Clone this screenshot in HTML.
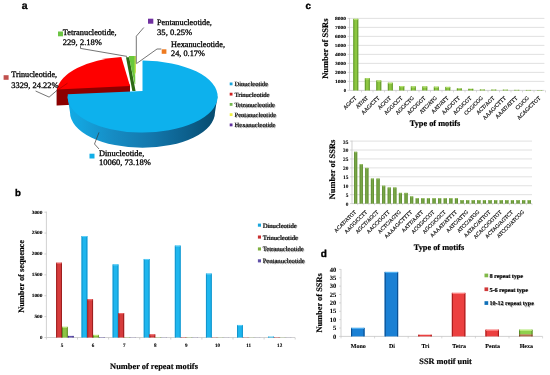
<!DOCTYPE html><html><head><meta charset="utf-8"><style>html,body{margin:0;padding:0;background:#fff;width:550px;height:375px;overflow:hidden}svg{display:block;filter:blur(0.35px)}text{text-rendering:geometricPrecision}text.r{stroke:#000;stroke-width:0.3px}</style></head><body>
<svg width="550" height="375" viewBox="0 0 550 375">
<defs>
<linearGradient id="blueSide" x1="0" y1="0" x2="1" y2="0">
 <stop offset="0" stop-color="#10ace6"/><stop offset="0.1" stop-color="#14a2dc"/><stop offset="0.3" stop-color="#168cc4"/><stop offset="0.55" stop-color="#1378ad"/><stop offset="0.8" stop-color="#0c5f8c"/><stop offset="1" stop-color="#074a6c"/>
</linearGradient>
<linearGradient id="bBlue" x1="0" y1="0" x2="1" y2="0">
 <stop offset="0" stop-color="#17a2d8"/><stop offset="0.3" stop-color="#22b8ee"/><stop offset="0.7" stop-color="#1fb4ea"/><stop offset="1" stop-color="#1590c4"/>
</linearGradient>
<linearGradient id="bRed" x1="0" y1="0" x2="1" y2="0">
 <stop offset="0" stop-color="#a82020"/><stop offset="0.35" stop-color="#d83a3a"/><stop offset="0.7" stop-color="#c83232"/><stop offset="1" stop-color="#8c1a1a"/>
</linearGradient>
<linearGradient id="bGreen" x1="0" y1="0" x2="1" y2="0">
 <stop offset="0" stop-color="#6a9a2a"/><stop offset="0.4" stop-color="#8cc43e"/><stop offset="1" stop-color="#5e8c24"/>
</linearGradient>
<linearGradient id="bPurple" x1="0" y1="0" x2="1" y2="0">
 <stop offset="0" stop-color="#4a3a8a"/><stop offset="0.5" stop-color="#6050a8"/><stop offset="1" stop-color="#3c2e78"/>
</linearGradient>
<linearGradient id="cGreen" x1="0" y1="0" x2="1" y2="0">
 <stop offset="0" stop-color="#5f9630"/><stop offset="0.45" stop-color="#8cc640"/><stop offset="1" stop-color="#4e8224"/>
</linearGradient>
<linearGradient id="c2Green" x1="0" y1="0" x2="1" y2="0">
 <stop offset="0" stop-color="#6e9a3e"/><stop offset="0.5" stop-color="#86b04e"/><stop offset="1" stop-color="#5c8630"/>
</linearGradient>
<linearGradient id="dBlue" x1="0" y1="0" x2="1" y2="0">
 <stop offset="0" stop-color="#0a5fa8"/><stop offset="0.4" stop-color="#1478c8"/><stop offset="1" stop-color="#0a4f90"/>
</linearGradient>
<linearGradient id="dRed" x1="0" y1="0" x2="1" y2="0">
 <stop offset="0" stop-color="#c82828"/><stop offset="0.4" stop-color="#ee4040"/><stop offset="1" stop-color="#b02020"/>
</linearGradient>
<linearGradient id="dGreen" x1="0" y1="0" x2="1" y2="0">
 <stop offset="0" stop-color="#6aa030"/><stop offset="0.4" stop-color="#96d050"/><stop offset="1" stop-color="#5a8c28"/>
</linearGradient>
</defs>
<text x="21.80" y="8.80" font-size="10.4" font-weight="bold" text-anchor="start" fill="#000" font-family='"Liberation Sans", sans-serif'  stroke="#000" stroke-width="0.35">a</text>
<path d="M57.0,88.1 L130.0,84.5 L130.0,102.0 L57.0,105.6 Z" fill="#8c0000"/>
<path d="M57.0,89.6 L57.0,105.6 L56.6,105.6 L56.6,89.6 Z" fill="#7a0000"/>
<path d="M130.0,86.0 L57.0,89.6 A75.0,36.0 0 0,1 121.3,57.0 Z" fill="#fe0000"/>
<line x1="57.1" y1="90.3" x2="67.5" y2="83.2" stroke="#a00000" stroke-width="0.6"/>
<path d="M126,57.3 L129.2,57.3 L135.6,91 L132.3,91 Z" fill="#2c6a14"/>
<path d="M128.8,56 L135,56 L135.3,84 L134.6,84 Z" fill="#6ac83c"/>
<path d="M134.6,56 L136.0,56 L136.0,72 L134.6,75 Z" fill="#c4e050"/>
<path d="M67.5,96.6 L217.5,96.6 L215.0,112.3 A72.5,35.5 0 0,1 70.0,112.3 Z" fill="url(#blueSide)"/>
<path d="M142.5,91.0 L142.5,60.599999999999994 A75.0,36.0 0 1,1 67.8,94.3 Z" fill="#0db1ed"/>
<polyline points="80.5,45.5 80.5,48.4 127,56.4" fill="none" stroke="#3a3a3a" stroke-width="0.7"/>
<polyline points="35.6,91 49.1,97.1 57.1,90.3" fill="none" stroke="#3a3a3a" stroke-width="0.7"/>
<polyline points="143.8,27.5 136.3,36.2 136.3,63.6" fill="none" stroke="#3a3a3a" stroke-width="0.7"/>
<polyline points="161.3,49 157,49 136.5,63.6" fill="none" stroke="#3a3a3a" stroke-width="0.7"/>
<polyline points="99,132.4 94.5,144 99,149" fill="none" stroke="#3a3a3a" stroke-width="0.7"/>
<rect x="58.00" y="31.50" width="5.00" height="4.80" fill="#6cc444" />
<text x="62.80" y="35.30" font-size="8.3" font-weight="normal" text-anchor="start" fill="#000" font-family='"Liberation Serif", serif'  class="r" textLength="53.8" lengthAdjust="spacingAndGlyphs">Tetranucleotide,</text>
<text x="62.80" y="44.70" font-size="8.3" font-weight="normal" text-anchor="start" fill="#000" font-family='"Liberation Serif", serif'  class="r" textLength="39.2" lengthAdjust="spacingAndGlyphs">229, 2.18%</text>
<rect x="3.60" y="75.20" width="5.00" height="4.60" fill="#c0504d" />
<text x="11.30" y="77.20" font-size="8.3" font-weight="normal" text-anchor="start" fill="#000" font-family='"Liberation Serif", serif'  class="r" textLength="45.8" lengthAdjust="spacingAndGlyphs">Trinucleotide,</text>
<text x="11.30" y="87.60" font-size="8.3" font-weight="normal" text-anchor="start" fill="#000" font-family='"Liberation Serif", serif'  class="r" textLength="47.2" lengthAdjust="spacingAndGlyphs">3329, 24.22%</text>
<rect x="148.00" y="18.70" width="5.30" height="5.00" fill="#7030a0" />
<text x="157.00" y="25.30" font-size="8.3" font-weight="normal" text-anchor="start" fill="#000" font-family='"Liberation Serif", serif'  class="r" textLength="54.9" lengthAdjust="spacingAndGlyphs">Pentanucleotide,</text>
<text x="157.00" y="34.70" font-size="8.3" font-weight="normal" text-anchor="start" fill="#000" font-family='"Liberation Serif", serif'  class="r" textLength="35.3" lengthAdjust="spacingAndGlyphs">35, 0.25%</text>
<rect x="161.70" y="49.30" width="4.70" height="4.50" fill="#ee7a20" />
<text x="171.00" y="47.10" font-size="8.3" font-weight="normal" text-anchor="start" fill="#000" font-family='"Liberation Serif", serif'  class="r" textLength="54.0" lengthAdjust="spacingAndGlyphs">Hexanucleotide,</text>
<text x="171.00" y="56.30" font-size="8.3" font-weight="normal" text-anchor="start" fill="#000" font-family='"Liberation Serif", serif'  class="r" textLength="33.9" lengthAdjust="spacingAndGlyphs">24, 0.17%</text>
<rect x="89.50" y="153.70" width="5.00" height="4.80" fill="#10aee8" />
<text x="98.90" y="155.60" font-size="8.3" font-weight="normal" text-anchor="start" fill="#000" font-family='"Liberation Serif", serif'  class="r" textLength="45.5" lengthAdjust="spacingAndGlyphs">Dinucleotide,</text>
<text x="98.90" y="165.10" font-size="8.3" font-weight="normal" text-anchor="start" fill="#000" font-family='"Liberation Serif", serif'  class="r" textLength="52.0" lengthAdjust="spacingAndGlyphs">10060, 73.18%</text>
<rect x="229.70" y="82.50" width="2.80" height="2.80" fill="#1aa6dc" />
<text x="235.30" y="87.00" font-size="6.5" font-weight="normal" text-anchor="start" fill="#a0a0a0" font-family='"Liberation Serif", serif'  stroke="#a0a0a0" stroke-width="0.15">Dinucleotide</text>
<text x="234.60" y="86.30" font-size="6.5" font-weight="normal" text-anchor="start" fill="#000" font-family='"Liberation Serif", serif'  stroke="#000" stroke-width="0.18">Dinucleotide</text>
<rect x="229.70" y="92.75" width="2.80" height="2.80" fill="#d02020" />
<text x="235.30" y="97.25" font-size="6.5" font-weight="normal" text-anchor="start" fill="#a0a0a0" font-family='"Liberation Serif", serif'  stroke="#a0a0a0" stroke-width="0.15">Trinucleotide</text>
<text x="234.60" y="96.55" font-size="6.5" font-weight="normal" text-anchor="start" fill="#000" font-family='"Liberation Serif", serif'  stroke="#000" stroke-width="0.18">Trinucleotide</text>
<rect x="229.70" y="103.00" width="2.80" height="2.80" fill="#74b850" />
<text x="235.30" y="107.50" font-size="6.5" font-weight="normal" text-anchor="start" fill="#a0a0a0" font-family='"Liberation Serif", serif'  stroke="#a0a0a0" stroke-width="0.15">Tetranucleotide</text>
<text x="234.60" y="106.80" font-size="6.5" font-weight="normal" text-anchor="start" fill="#000" font-family='"Liberation Serif", serif'  stroke="#000" stroke-width="0.18">Tetranucleotide</text>
<rect x="229.70" y="113.25" width="2.80" height="2.80" fill="#f0f040" />
<text x="235.30" y="117.75" font-size="6.5" font-weight="normal" text-anchor="start" fill="#a0a0a0" font-family='"Liberation Serif", serif'  stroke="#a0a0a0" stroke-width="0.15">Pentanucleotide</text>
<text x="234.60" y="117.05" font-size="6.5" font-weight="normal" text-anchor="start" fill="#000" font-family='"Liberation Serif", serif'  stroke="#000" stroke-width="0.18">Pentanucleotide</text>
<rect x="229.70" y="123.50" width="2.80" height="2.80" fill="#6030a0" />
<text x="235.30" y="128.00" font-size="6.5" font-weight="normal" text-anchor="start" fill="#a0a0a0" font-family='"Liberation Serif", serif'  stroke="#a0a0a0" stroke-width="0.15">Hexanucleotide</text>
<text x="234.60" y="127.30" font-size="6.5" font-weight="normal" text-anchor="start" fill="#000" font-family='"Liberation Serif", serif'  stroke="#000" stroke-width="0.18">Hexanucleotide</text>
<text x="15.00" y="196.30" font-size="9.6" font-weight="bold" text-anchor="start" fill="#000" font-family='"Liberation Sans", sans-serif'  stroke="#000" stroke-width="0.35">b</text>
<line x1="46.40" y1="211.50" x2="46.40" y2="337.50" stroke="#bfbfbf" stroke-width="0.7" />
<line x1="46.40" y1="337.50" x2="295.00" y2="337.50" stroke="#bfbfbf" stroke-width="0.7" />
<line x1="44.40" y1="337.50" x2="46.40" y2="337.50" stroke="#bfbfbf" stroke-width="0.7" />
<text x="42.50" y="338.85" font-size="4.9" font-weight="bold" text-anchor="end" fill="#000" font-family='"Liberation Serif", serif'  stroke="#000" stroke-width="0.1">0</text>
<line x1="44.40" y1="316.62" x2="46.40" y2="316.62" stroke="#bfbfbf" stroke-width="0.7" />
<text x="42.50" y="317.97" font-size="4.9" font-weight="bold" text-anchor="end" fill="#000" font-family='"Liberation Serif", serif'  stroke="#000" stroke-width="0.1" textLength="8.1" lengthAdjust="spacingAndGlyphs">500</text>
<line x1="44.40" y1="295.73" x2="46.40" y2="295.73" stroke="#bfbfbf" stroke-width="0.7" />
<text x="42.50" y="297.08" font-size="4.9" font-weight="bold" text-anchor="end" fill="#000" font-family='"Liberation Serif", serif'  stroke="#000" stroke-width="0.1" textLength="10.8" lengthAdjust="spacingAndGlyphs">1000</text>
<line x1="44.40" y1="274.85" x2="46.40" y2="274.85" stroke="#bfbfbf" stroke-width="0.7" />
<text x="42.50" y="276.20" font-size="4.9" font-weight="bold" text-anchor="end" fill="#000" font-family='"Liberation Serif", serif'  stroke="#000" stroke-width="0.1" textLength="10.8" lengthAdjust="spacingAndGlyphs">1500</text>
<line x1="44.40" y1="253.97" x2="46.40" y2="253.97" stroke="#bfbfbf" stroke-width="0.7" />
<text x="42.50" y="255.32" font-size="4.9" font-weight="bold" text-anchor="end" fill="#000" font-family='"Liberation Serif", serif'  stroke="#000" stroke-width="0.1" textLength="10.8" lengthAdjust="spacingAndGlyphs">2000</text>
<line x1="44.40" y1="233.08" x2="46.40" y2="233.08" stroke="#bfbfbf" stroke-width="0.7" />
<text x="42.50" y="234.43" font-size="4.9" font-weight="bold" text-anchor="end" fill="#000" font-family='"Liberation Serif", serif'  stroke="#000" stroke-width="0.1" textLength="10.8" lengthAdjust="spacingAndGlyphs">2500</text>
<line x1="44.40" y1="212.20" x2="46.40" y2="212.20" stroke="#bfbfbf" stroke-width="0.7" />
<text x="42.50" y="213.55" font-size="4.9" font-weight="bold" text-anchor="end" fill="#000" font-family='"Liberation Serif", serif'  stroke="#000" stroke-width="0.1" textLength="10.8" lengthAdjust="spacingAndGlyphs">3000</text>
<line x1="46.40" y1="337.50" x2="46.40" y2="339.50" stroke="#bfbfbf" stroke-width="0.7" />
<line x1="77.50" y1="337.50" x2="77.50" y2="339.50" stroke="#bfbfbf" stroke-width="0.7" />
<line x1="108.60" y1="337.50" x2="108.60" y2="339.50" stroke="#bfbfbf" stroke-width="0.7" />
<line x1="139.70" y1="337.50" x2="139.70" y2="339.50" stroke="#bfbfbf" stroke-width="0.7" />
<line x1="170.80" y1="337.50" x2="170.80" y2="339.50" stroke="#bfbfbf" stroke-width="0.7" />
<line x1="201.90" y1="337.50" x2="201.90" y2="339.50" stroke="#bfbfbf" stroke-width="0.7" />
<line x1="233.00" y1="337.50" x2="233.00" y2="339.50" stroke="#bfbfbf" stroke-width="0.7" />
<line x1="264.10" y1="337.50" x2="264.10" y2="339.50" stroke="#bfbfbf" stroke-width="0.7" />
<line x1="295.20" y1="337.50" x2="295.20" y2="339.50" stroke="#bfbfbf" stroke-width="0.7" />
<rect x="56.15" y="262.74" width="5.80" height="74.76" fill="#d63c3c" />
<rect x="56.15" y="262.74" width="1.00" height="74.76" fill="#9c1e1e" />
<rect x="60.95" y="262.74" width="1.00" height="74.76" fill="#9c1e1e" />
<rect x="56.65" y="262.74" width="4.80" height="1.00" fill="#f07070" />
<rect x="61.95" y="326.85" width="5.80" height="10.65" fill="#8cc444" />
<rect x="61.95" y="326.85" width="1.00" height="10.65" fill="#5e8e26" />
<rect x="66.75" y="326.85" width="1.00" height="10.65" fill="#5e8e26" />
<rect x="62.45" y="326.85" width="4.80" height="1.00" fill="#c0e880" />
<rect x="67.85" y="335.91" width="5.80" height="1.59" fill="#6454b0" />
<rect x="67.85" y="335.91" width="1.00" height="1.59" fill="#3e3080" />
<rect x="72.65" y="335.91" width="1.00" height="1.59" fill="#3e3080" />
<text x="61.95" y="347.10" font-size="5.1" font-weight="bold" text-anchor="middle" fill="#000" font-family='"Liberation Serif", serif'  stroke="#000" stroke-width="0.1">5</text>
<rect x="81.55" y="236.01" width="5.80" height="101.49" fill="#1eb6ee" />
<rect x="81.55" y="236.01" width="1.00" height="101.49" fill="#1394cc" />
<rect x="86.35" y="236.01" width="1.00" height="101.49" fill="#1394cc" />
<rect x="82.05" y="236.01" width="4.80" height="1.00" fill="#60d0f8" />
<rect x="87.25" y="299.28" width="5.80" height="38.22" fill="#d63c3c" />
<rect x="87.25" y="299.28" width="1.00" height="38.22" fill="#9c1e1e" />
<rect x="92.05" y="299.28" width="1.00" height="38.22" fill="#9c1e1e" />
<rect x="87.75" y="299.28" width="4.80" height="1.00" fill="#f07070" />
<rect x="93.05" y="334.91" width="5.80" height="2.59" fill="#8cc444" />
<rect x="93.05" y="334.91" width="1.00" height="2.59" fill="#5e8e26" />
<rect x="97.85" y="334.91" width="1.00" height="2.59" fill="#5e8e26" />
<rect x="93.55" y="334.91" width="4.80" height="1.00" fill="#c0e880" />
<rect x="98.95" y="337.17" width="5.80" height="0.33" fill="#6454b0" />
<rect x="98.95" y="337.17" width="1.00" height="0.33" fill="#3e3080" />
<rect x="103.75" y="337.17" width="1.00" height="0.33" fill="#3e3080" />
<text x="93.05" y="347.10" font-size="5.1" font-weight="bold" text-anchor="middle" fill="#000" font-family='"Liberation Serif", serif'  stroke="#000" stroke-width="0.1">6</text>
<rect x="112.65" y="264.41" width="5.80" height="73.09" fill="#1eb6ee" />
<rect x="112.65" y="264.41" width="1.00" height="73.09" fill="#1394cc" />
<rect x="117.45" y="264.41" width="1.00" height="73.09" fill="#1394cc" />
<rect x="113.15" y="264.41" width="4.80" height="1.00" fill="#60d0f8" />
<rect x="118.35" y="313.07" width="5.80" height="24.43" fill="#d63c3c" />
<rect x="118.35" y="313.07" width="1.00" height="24.43" fill="#9c1e1e" />
<rect x="123.15" y="313.07" width="1.00" height="24.43" fill="#9c1e1e" />
<rect x="118.85" y="313.07" width="4.80" height="1.00" fill="#f07070" />
<rect x="124.15" y="337.25" width="5.80" height="0.25" fill="#8cc444" />
<rect x="124.15" y="337.25" width="1.00" height="0.25" fill="#5e8e26" />
<rect x="128.95" y="337.25" width="1.00" height="0.25" fill="#5e8e26" />
<rect x="130.05" y="337.37" width="5.80" height="0.13" fill="#6454b0" />
<rect x="130.05" y="337.37" width="1.00" height="0.13" fill="#3e3080" />
<rect x="134.85" y="337.37" width="1.00" height="0.13" fill="#3e3080" />
<text x="124.15" y="347.10" font-size="5.1" font-weight="bold" text-anchor="middle" fill="#000" font-family='"Liberation Serif", serif'  stroke="#000" stroke-width="0.1">7</text>
<rect x="143.75" y="258.98" width="5.80" height="78.52" fill="#1eb6ee" />
<rect x="143.75" y="258.98" width="1.00" height="78.52" fill="#1394cc" />
<rect x="148.55" y="258.98" width="1.00" height="78.52" fill="#1394cc" />
<rect x="144.25" y="258.98" width="4.80" height="1.00" fill="#60d0f8" />
<rect x="149.45" y="334.37" width="5.80" height="3.13" fill="#d63c3c" />
<rect x="149.45" y="334.37" width="1.00" height="3.13" fill="#9c1e1e" />
<rect x="154.25" y="334.37" width="1.00" height="3.13" fill="#9c1e1e" />
<rect x="149.95" y="334.37" width="4.80" height="1.00" fill="#f07070" />
<rect x="155.25" y="337.25" width="5.80" height="0.25" fill="#8cc444" />
<rect x="155.25" y="337.25" width="1.00" height="0.25" fill="#5e8e26" />
<rect x="160.05" y="337.25" width="1.00" height="0.25" fill="#5e8e26" />
<rect x="161.15" y="337.37" width="5.80" height="0.13" fill="#6454b0" />
<rect x="161.15" y="337.37" width="1.00" height="0.13" fill="#3e3080" />
<rect x="165.95" y="337.37" width="1.00" height="0.13" fill="#3e3080" />
<text x="155.25" y="347.10" font-size="5.1" font-weight="bold" text-anchor="middle" fill="#000" font-family='"Liberation Serif", serif'  stroke="#000" stroke-width="0.1">8</text>
<rect x="174.85" y="245.61" width="5.80" height="91.89" fill="#1eb6ee" />
<rect x="174.85" y="245.61" width="1.00" height="91.89" fill="#1394cc" />
<rect x="179.65" y="245.61" width="1.00" height="91.89" fill="#1394cc" />
<rect x="175.35" y="245.61" width="4.80" height="1.00" fill="#60d0f8" />
<rect x="180.55" y="337.17" width="5.80" height="0.33" fill="#d63c3c" />
<rect x="180.55" y="337.17" width="1.00" height="0.33" fill="#9c1e1e" />
<rect x="185.35" y="337.17" width="1.00" height="0.33" fill="#9c1e1e" />
<rect x="186.35" y="337.29" width="5.80" height="0.21" fill="#8cc444" />
<rect x="186.35" y="337.29" width="1.00" height="0.21" fill="#5e8e26" />
<rect x="191.15" y="337.29" width="1.00" height="0.21" fill="#5e8e26" />
<rect x="192.25" y="337.37" width="5.80" height="0.13" fill="#6454b0" />
<rect x="192.25" y="337.37" width="1.00" height="0.13" fill="#3e3080" />
<rect x="197.05" y="337.37" width="1.00" height="0.13" fill="#3e3080" />
<text x="186.35" y="347.10" font-size="5.1" font-weight="bold" text-anchor="middle" fill="#000" font-family='"Liberation Serif", serif'  stroke="#000" stroke-width="0.1">9</text>
<rect x="205.95" y="273.60" width="5.80" height="63.90" fill="#1eb6ee" />
<rect x="205.95" y="273.60" width="1.00" height="63.90" fill="#1394cc" />
<rect x="210.75" y="273.60" width="1.00" height="63.90" fill="#1394cc" />
<rect x="206.45" y="273.60" width="4.80" height="1.00" fill="#60d0f8" />
<rect x="211.65" y="337.29" width="5.80" height="0.21" fill="#d63c3c" />
<rect x="211.65" y="337.29" width="1.00" height="0.21" fill="#9c1e1e" />
<rect x="216.45" y="337.29" width="1.00" height="0.21" fill="#9c1e1e" />
<rect x="217.45" y="337.37" width="5.80" height="0.13" fill="#8cc444" />
<rect x="217.45" y="337.37" width="1.00" height="0.13" fill="#5e8e26" />
<rect x="222.25" y="337.37" width="1.00" height="0.13" fill="#5e8e26" />
<rect x="223.35" y="337.42" width="5.80" height="0.08" fill="#6454b0" />
<rect x="223.35" y="337.42" width="1.00" height="0.08" fill="#3e3080" />
<rect x="228.15" y="337.42" width="1.00" height="0.08" fill="#3e3080" />
<text x="217.45" y="347.10" font-size="5.1" font-weight="bold" text-anchor="middle" fill="#000" font-family='"Liberation Serif", serif'  stroke="#000" stroke-width="0.1">10</text>
<rect x="237.05" y="324.97" width="5.80" height="12.53" fill="#1eb6ee" />
<rect x="237.05" y="324.97" width="1.00" height="12.53" fill="#1394cc" />
<rect x="241.85" y="324.97" width="1.00" height="12.53" fill="#1394cc" />
<rect x="237.55" y="324.97" width="4.80" height="1.00" fill="#60d0f8" />
<rect x="242.75" y="337.29" width="5.80" height="0.21" fill="#d63c3c" />
<rect x="242.75" y="337.29" width="1.00" height="0.21" fill="#9c1e1e" />
<rect x="247.55" y="337.29" width="1.00" height="0.21" fill="#9c1e1e" />
<rect x="248.55" y="337.37" width="5.80" height="0.13" fill="#8cc444" />
<rect x="248.55" y="337.37" width="1.00" height="0.13" fill="#5e8e26" />
<rect x="253.35" y="337.37" width="1.00" height="0.13" fill="#5e8e26" />
<rect x="254.45" y="337.42" width="5.80" height="0.08" fill="#6454b0" />
<rect x="254.45" y="337.42" width="1.00" height="0.08" fill="#3e3080" />
<rect x="259.25" y="337.42" width="1.00" height="0.08" fill="#3e3080" />
<text x="248.55" y="347.10" font-size="5.1" font-weight="bold" text-anchor="middle" fill="#000" font-family='"Liberation Serif", serif'  stroke="#000" stroke-width="0.1">11</text>
<rect x="268.15" y="336.66" width="5.80" height="0.84" fill="#1eb6ee" />
<rect x="268.15" y="336.66" width="1.00" height="0.84" fill="#1394cc" />
<rect x="272.95" y="336.66" width="1.00" height="0.84" fill="#1394cc" />
<rect x="273.85" y="337.17" width="5.80" height="0.33" fill="#d63c3c" />
<rect x="273.85" y="337.17" width="1.00" height="0.33" fill="#9c1e1e" />
<rect x="278.65" y="337.17" width="1.00" height="0.33" fill="#9c1e1e" />
<rect x="279.65" y="337.37" width="5.80" height="0.13" fill="#8cc444" />
<rect x="279.65" y="337.37" width="1.00" height="0.13" fill="#5e8e26" />
<rect x="284.45" y="337.37" width="1.00" height="0.13" fill="#5e8e26" />
<rect x="285.55" y="337.42" width="5.80" height="0.08" fill="#6454b0" />
<rect x="285.55" y="337.42" width="1.00" height="0.08" fill="#3e3080" />
<rect x="290.35" y="337.42" width="1.00" height="0.08" fill="#3e3080" />
<text x="279.65" y="347.10" font-size="5.1" font-weight="bold" text-anchor="middle" fill="#000" font-family='"Liberation Serif", serif'  stroke="#000" stroke-width="0.1">12</text>
<text x="24.50" y="276.40" font-size="8.4" font-weight="bold" text-anchor="middle" fill="#000" font-family='"Liberation Serif", serif' transform="rotate(-90 24.50 276.40)" stroke="#000" stroke-width="0.18">Number of sequence</text>
<text x="154.00" y="369.20" font-size="8.4" font-weight="bold" text-anchor="middle" fill="#000" font-family='"Liberation Serif", serif'  stroke="#000" stroke-width="0.18">Number of repeat motifs</text>
<rect x="257.90" y="223.60" width="3.10" height="3.10" fill="#1aa6dc" />
<text x="263.40" y="228.30" font-size="6.6" font-weight="normal" text-anchor="start" fill="#a0a0a0" font-family='"Liberation Serif", serif'  stroke="#a0a0a0" stroke-width="0.15">Dinucleotide</text>
<text x="262.70" y="227.60" font-size="6.6" font-weight="normal" text-anchor="start" fill="#000" font-family='"Liberation Serif", serif'  stroke="#000" stroke-width="0.18">Dinucleotide</text>
<rect x="257.90" y="235.50" width="3.10" height="3.10" fill="#c83030" />
<text x="263.40" y="240.20" font-size="6.6" font-weight="normal" text-anchor="start" fill="#a0a0a0" font-family='"Liberation Serif", serif'  stroke="#a0a0a0" stroke-width="0.15">Trinucleotide</text>
<text x="262.70" y="239.50" font-size="6.6" font-weight="normal" text-anchor="start" fill="#000" font-family='"Liberation Serif", serif'  stroke="#000" stroke-width="0.18">Trinucleotide</text>
<rect x="257.90" y="247.40" width="3.10" height="3.10" fill="#80b040" />
<text x="263.40" y="252.10" font-size="6.6" font-weight="normal" text-anchor="start" fill="#a0a0a0" font-family='"Liberation Serif", serif'  stroke="#a0a0a0" stroke-width="0.15">Tetranucleotide</text>
<text x="262.70" y="251.40" font-size="6.6" font-weight="normal" text-anchor="start" fill="#000" font-family='"Liberation Serif", serif'  stroke="#000" stroke-width="0.18">Tetranucleotide</text>
<rect x="257.90" y="259.30" width="3.10" height="3.10" fill="#6050a8" />
<text x="263.40" y="264.00" font-size="6.6" font-weight="normal" text-anchor="start" fill="#a0a0a0" font-family='"Liberation Serif", serif'  stroke="#a0a0a0" stroke-width="0.15">Pentanucleotide</text>
<text x="262.70" y="263.30" font-size="6.6" font-weight="normal" text-anchor="start" fill="#000" font-family='"Liberation Serif", serif'  stroke="#000" stroke-width="0.18">Pentanucleotide</text>
<text x="305.60" y="8.80" font-size="9.8" font-weight="bold" text-anchor="start" fill="#000" font-family='"Liberation Sans", sans-serif'  stroke="#000" stroke-width="0.35">c</text>
<line x1="349.50" y1="81.40" x2="544.40" y2="81.40" stroke="#d9d9d9" stroke-width="0.8" />
<line x1="349.50" y1="72.40" x2="544.40" y2="72.40" stroke="#d9d9d9" stroke-width="0.8" />
<line x1="349.50" y1="63.40" x2="544.40" y2="63.40" stroke="#d9d9d9" stroke-width="0.8" />
<line x1="349.50" y1="54.40" x2="544.40" y2="54.40" stroke="#d9d9d9" stroke-width="0.8" />
<line x1="349.50" y1="45.40" x2="544.40" y2="45.40" stroke="#d9d9d9" stroke-width="0.8" />
<line x1="349.50" y1="36.40" x2="544.40" y2="36.40" stroke="#d9d9d9" stroke-width="0.8" />
<line x1="349.50" y1="27.40" x2="544.40" y2="27.40" stroke="#d9d9d9" stroke-width="0.8" />
<line x1="349.50" y1="18.40" x2="544.40" y2="18.40" stroke="#d9d9d9" stroke-width="0.8" />
<line x1="349.50" y1="18.00" x2="349.50" y2="90.40" stroke="#bfbfbf" stroke-width="0.7" />
<line x1="349.50" y1="90.40" x2="544.40" y2="90.40" stroke="#bfbfbf" stroke-width="0.7" />
<line x1="347.50" y1="90.40" x2="349.50" y2="90.40" stroke="#bfbfbf" stroke-width="0.6" />
<text x="346.00" y="92.20" font-size="4.7" font-weight="bold" text-anchor="end" fill="#000" font-family='"Liberation Serif", serif'  stroke="#000" stroke-width="0.1">0</text>
<line x1="347.50" y1="81.40" x2="349.50" y2="81.40" stroke="#bfbfbf" stroke-width="0.6" />
<text x="346.00" y="83.20" font-size="4.7" font-weight="bold" text-anchor="end" fill="#000" font-family='"Liberation Serif", serif'  stroke="#000" stroke-width="0.1" textLength="11.0" lengthAdjust="spacingAndGlyphs">1000</text>
<line x1="347.50" y1="72.40" x2="349.50" y2="72.40" stroke="#bfbfbf" stroke-width="0.6" />
<text x="346.00" y="74.20" font-size="4.7" font-weight="bold" text-anchor="end" fill="#000" font-family='"Liberation Serif", serif'  stroke="#000" stroke-width="0.1" textLength="11.0" lengthAdjust="spacingAndGlyphs">2000</text>
<line x1="347.50" y1="63.40" x2="349.50" y2="63.40" stroke="#bfbfbf" stroke-width="0.6" />
<text x="346.00" y="65.20" font-size="4.7" font-weight="bold" text-anchor="end" fill="#000" font-family='"Liberation Serif", serif'  stroke="#000" stroke-width="0.1" textLength="11.0" lengthAdjust="spacingAndGlyphs">3000</text>
<line x1="347.50" y1="54.40" x2="349.50" y2="54.40" stroke="#bfbfbf" stroke-width="0.6" />
<text x="346.00" y="56.20" font-size="4.7" font-weight="bold" text-anchor="end" fill="#000" font-family='"Liberation Serif", serif'  stroke="#000" stroke-width="0.1" textLength="11.0" lengthAdjust="spacingAndGlyphs">4000</text>
<line x1="347.50" y1="45.40" x2="349.50" y2="45.40" stroke="#bfbfbf" stroke-width="0.6" />
<text x="346.00" y="47.20" font-size="4.7" font-weight="bold" text-anchor="end" fill="#000" font-family='"Liberation Serif", serif'  stroke="#000" stroke-width="0.1" textLength="11.0" lengthAdjust="spacingAndGlyphs">5000</text>
<line x1="347.50" y1="36.40" x2="349.50" y2="36.40" stroke="#bfbfbf" stroke-width="0.6" />
<text x="346.00" y="38.20" font-size="4.7" font-weight="bold" text-anchor="end" fill="#000" font-family='"Liberation Serif", serif'  stroke="#000" stroke-width="0.1" textLength="11.0" lengthAdjust="spacingAndGlyphs">6000</text>
<line x1="347.50" y1="27.40" x2="349.50" y2="27.40" stroke="#bfbfbf" stroke-width="0.6" />
<text x="346.00" y="29.20" font-size="4.7" font-weight="bold" text-anchor="end" fill="#000" font-family='"Liberation Serif", serif'  stroke="#000" stroke-width="0.1" textLength="11.0" lengthAdjust="spacingAndGlyphs">7000</text>
<line x1="347.50" y1="18.40" x2="349.50" y2="18.40" stroke="#bfbfbf" stroke-width="0.6" />
<text x="346.00" y="20.20" font-size="4.7" font-weight="bold" text-anchor="end" fill="#000" font-family='"Liberation Serif", serif'  stroke="#000" stroke-width="0.1" textLength="11.0" lengthAdjust="spacingAndGlyphs">8000</text>
<rect x="353.35" y="18.85" width="4.90" height="71.55" fill="#8cc640" />
<rect x="353.35" y="18.85" width="1.00" height="71.55" fill="#62982c" />
<rect x="357.25" y="18.85" width="1.00" height="71.55" fill="#62982c" />
<rect x="353.85" y="18.85" width="3.90" height="1.20" fill="#b4e070" />
<line x1="361.50" y1="90.40" x2="361.50" y2="92.40" stroke="#bfbfbf" stroke-width="0.6" />
<text x="356.75" y="98.30" font-size="5.4" font-weight="normal" text-anchor="end" fill="#111" font-family='"Liberation Serif", serif' transform="rotate(-45 356.75 98.3)" stroke="#111" stroke-width="0.2">AG/CT</text>
<rect x="364.85" y="78.25" width="4.90" height="12.15" fill="#8cc640" />
<rect x="364.85" y="78.25" width="1.00" height="12.15" fill="#62982c" />
<rect x="368.75" y="78.25" width="1.00" height="12.15" fill="#62982c" />
<rect x="365.35" y="78.25" width="3.90" height="1.20" fill="#b4e070" />
<line x1="373.00" y1="90.40" x2="373.00" y2="92.40" stroke="#bfbfbf" stroke-width="0.6" />
<text x="368.25" y="98.30" font-size="5.4" font-weight="normal" text-anchor="end" fill="#111" font-family='"Liberation Serif", serif' transform="rotate(-45 368.25 98.3)" stroke="#111" stroke-width="0.2">AT/AT</text>
<rect x="376.35" y="80.50" width="4.90" height="9.90" fill="#8cc640" />
<rect x="376.35" y="80.50" width="1.00" height="9.90" fill="#62982c" />
<rect x="380.25" y="80.50" width="1.00" height="9.90" fill="#62982c" />
<rect x="376.85" y="80.50" width="3.90" height="1.20" fill="#b4e070" />
<line x1="384.50" y1="90.40" x2="384.50" y2="92.40" stroke="#bfbfbf" stroke-width="0.6" />
<text x="379.75" y="98.30" font-size="5.4" font-weight="normal" text-anchor="end" fill="#111" font-family='"Liberation Serif", serif' transform="rotate(-45 379.75 98.3)" stroke="#111" stroke-width="0.2">AAG/CTT</text>
<rect x="387.85" y="82.75" width="4.90" height="7.65" fill="#8cc640" />
<rect x="387.85" y="82.75" width="1.00" height="7.65" fill="#62982c" />
<rect x="391.75" y="82.75" width="1.00" height="7.65" fill="#62982c" />
<rect x="388.35" y="82.75" width="3.90" height="1.20" fill="#b4e070" />
<line x1="396.00" y1="90.40" x2="396.00" y2="92.40" stroke="#bfbfbf" stroke-width="0.6" />
<text x="391.25" y="98.30" font-size="5.4" font-weight="normal" text-anchor="end" fill="#111" font-family='"Liberation Serif", serif' transform="rotate(-45 391.25 98.3)" stroke="#111" stroke-width="0.2">AC/GT</text>
<rect x="399.35" y="85.99" width="4.90" height="4.41" fill="#8cc640" />
<rect x="399.35" y="85.99" width="1.00" height="4.41" fill="#62982c" />
<rect x="403.25" y="85.99" width="1.00" height="4.41" fill="#62982c" />
<rect x="399.85" y="85.99" width="3.90" height="1.20" fill="#b4e070" />
<line x1="407.50" y1="90.40" x2="407.50" y2="92.40" stroke="#bfbfbf" stroke-width="0.6" />
<text x="402.75" y="98.30" font-size="5.4" font-weight="normal" text-anchor="end" fill="#111" font-family='"Liberation Serif", serif' transform="rotate(-45 402.75 98.3)" stroke="#111" stroke-width="0.2">AGG/CCT</text>
<rect x="410.85" y="86.40" width="4.90" height="4.00" fill="#8cc640" />
<rect x="410.85" y="86.40" width="1.00" height="4.00" fill="#62982c" />
<rect x="414.75" y="86.40" width="1.00" height="4.00" fill="#62982c" />
<rect x="411.35" y="86.40" width="3.90" height="1.20" fill="#b4e070" />
<line x1="419.00" y1="90.40" x2="419.00" y2="92.40" stroke="#bfbfbf" stroke-width="0.6" />
<text x="414.25" y="98.30" font-size="5.4" font-weight="normal" text-anchor="end" fill="#111" font-family='"Liberation Serif", serif' transform="rotate(-45 414.25 98.3)" stroke="#111" stroke-width="0.2">AGC/CTG</text>
<rect x="422.35" y="86.44" width="4.90" height="3.96" fill="#8cc640" />
<rect x="422.35" y="86.44" width="1.00" height="3.96" fill="#62982c" />
<rect x="426.25" y="86.44" width="1.00" height="3.96" fill="#62982c" />
<rect x="422.85" y="86.44" width="3.90" height="1.20" fill="#b4e070" />
<line x1="430.50" y1="90.40" x2="430.50" y2="92.40" stroke="#bfbfbf" stroke-width="0.6" />
<text x="425.75" y="98.30" font-size="5.4" font-weight="normal" text-anchor="end" fill="#111" font-family='"Liberation Serif", serif' transform="rotate(-45 425.75 98.3)" stroke="#111" stroke-width="0.2">ACC/GGT</text>
<rect x="433.85" y="86.71" width="4.90" height="3.69" fill="#8cc640" />
<rect x="433.85" y="86.71" width="1.00" height="3.69" fill="#62982c" />
<rect x="437.75" y="86.71" width="1.00" height="3.69" fill="#62982c" />
<rect x="434.35" y="86.71" width="3.90" height="1.20" fill="#b4e070" />
<line x1="442.00" y1="90.40" x2="442.00" y2="92.40" stroke="#bfbfbf" stroke-width="0.6" />
<text x="437.25" y="98.30" font-size="5.4" font-weight="normal" text-anchor="end" fill="#111" font-family='"Liberation Serif", serif' transform="rotate(-45 437.25 98.3)" stroke="#111" stroke-width="0.2">ATC/ATG</text>
<rect x="445.35" y="86.89" width="4.90" height="3.51" fill="#8cc640" />
<rect x="445.35" y="86.89" width="1.00" height="3.51" fill="#62982c" />
<rect x="449.25" y="86.89" width="1.00" height="3.51" fill="#62982c" />
<rect x="445.85" y="86.89" width="3.90" height="1.20" fill="#b4e070" />
<line x1="453.50" y1="90.40" x2="453.50" y2="92.40" stroke="#bfbfbf" stroke-width="0.6" />
<text x="448.75" y="98.30" font-size="5.4" font-weight="normal" text-anchor="end" fill="#111" font-family='"Liberation Serif", serif' transform="rotate(-45 448.75 98.3)" stroke="#111" stroke-width="0.2">AAT/ATT</text>
<rect x="456.85" y="88.42" width="4.90" height="1.98" fill="#8cc640" />
<rect x="456.85" y="88.42" width="1.00" height="1.98" fill="#62982c" />
<rect x="460.75" y="88.42" width="1.00" height="1.98" fill="#62982c" />
<line x1="465.00" y1="90.40" x2="465.00" y2="92.40" stroke="#bfbfbf" stroke-width="0.6" />
<text x="460.25" y="98.30" font-size="5.4" font-weight="normal" text-anchor="end" fill="#111" font-family='"Liberation Serif", serif' transform="rotate(-45 460.25 98.3)" stroke="#111" stroke-width="0.2">AAC/GTT</text>
<rect x="468.35" y="88.78" width="4.90" height="1.62" fill="#8cc640" />
<rect x="468.35" y="88.78" width="1.00" height="1.62" fill="#62982c" />
<rect x="472.25" y="88.78" width="1.00" height="1.62" fill="#62982c" />
<line x1="476.50" y1="90.40" x2="476.50" y2="92.40" stroke="#bfbfbf" stroke-width="0.6" />
<text x="471.75" y="98.30" font-size="5.4" font-weight="normal" text-anchor="end" fill="#111" font-family='"Liberation Serif", serif' transform="rotate(-45 471.75 98.3)" stroke="#111" stroke-width="0.2">ACG/CGT</text>
<rect x="479.85" y="89.50" width="4.90" height="0.90" fill="#8cc640" />
<rect x="479.85" y="89.50" width="1.00" height="0.90" fill="#62982c" />
<rect x="483.75" y="89.50" width="1.00" height="0.90" fill="#62982c" />
<line x1="488.00" y1="90.40" x2="488.00" y2="92.40" stroke="#bfbfbf" stroke-width="0.6" />
<text x="483.25" y="98.30" font-size="5.4" font-weight="normal" text-anchor="end" fill="#111" font-family='"Liberation Serif", serif' transform="rotate(-45 483.25 98.3)" stroke="#111" stroke-width="0.2">CCG/CGG</text>
<rect x="491.35" y="89.59" width="4.90" height="0.81" fill="#8cc640" />
<rect x="491.35" y="89.59" width="1.00" height="0.81" fill="#62982c" />
<rect x="495.25" y="89.59" width="1.00" height="0.81" fill="#62982c" />
<line x1="499.50" y1="90.40" x2="499.50" y2="92.40" stroke="#bfbfbf" stroke-width="0.6" />
<text x="494.75" y="98.30" font-size="5.4" font-weight="normal" text-anchor="end" fill="#111" font-family='"Liberation Serif", serif' transform="rotate(-45 494.75 98.3)" stroke="#111" stroke-width="0.2">ACT/AGT</text>
<rect x="502.85" y="89.68" width="4.90" height="0.72" fill="#8cc640" />
<rect x="502.85" y="89.68" width="1.00" height="0.72" fill="#62982c" />
<rect x="506.75" y="89.68" width="1.00" height="0.72" fill="#62982c" />
<line x1="511.00" y1="90.40" x2="511.00" y2="92.40" stroke="#bfbfbf" stroke-width="0.6" />
<text x="506.25" y="98.30" font-size="5.4" font-weight="normal" text-anchor="end" fill="#111" font-family='"Liberation Serif", serif' transform="rotate(-45 506.25 98.3)" stroke="#111" stroke-width="0.2">AAAG/CTTT</text>
<rect x="514.35" y="89.86" width="4.90" height="0.54" fill="#8cc640" />
<rect x="514.35" y="89.86" width="1.00" height="0.54" fill="#62982c" />
<rect x="518.25" y="89.86" width="1.00" height="0.54" fill="#62982c" />
<line x1="522.50" y1="90.40" x2="522.50" y2="92.40" stroke="#bfbfbf" stroke-width="0.6" />
<text x="517.75" y="98.30" font-size="5.4" font-weight="normal" text-anchor="end" fill="#111" font-family='"Liberation Serif", serif' transform="rotate(-45 517.75 98.3)" stroke="#111" stroke-width="0.2">AAAT/ATTT</text>
<rect x="525.85" y="89.95" width="4.90" height="0.45" fill="#8cc640" />
<rect x="525.85" y="89.95" width="1.00" height="0.45" fill="#62982c" />
<rect x="529.75" y="89.95" width="1.00" height="0.45" fill="#62982c" />
<line x1="534.00" y1="90.40" x2="534.00" y2="92.40" stroke="#bfbfbf" stroke-width="0.6" />
<text x="529.25" y="98.30" font-size="5.4" font-weight="normal" text-anchor="end" fill="#111" font-family='"Liberation Serif", serif' transform="rotate(-45 529.25 98.3)" stroke="#111" stroke-width="0.2">CG/CG</text>
<rect x="537.35" y="90.04" width="4.90" height="0.36" fill="#8cc640" />
<rect x="537.35" y="90.04" width="1.00" height="0.36" fill="#62982c" />
<rect x="541.25" y="90.04" width="1.00" height="0.36" fill="#62982c" />
<line x1="545.50" y1="90.40" x2="545.50" y2="92.40" stroke="#bfbfbf" stroke-width="0.6" />
<text x="540.75" y="98.30" font-size="5.4" font-weight="normal" text-anchor="end" fill="#111" font-family='"Liberation Serif", serif' transform="rotate(-45 540.75 98.3)" stroke="#111" stroke-width="0.2">ACAG/CTGT</text>
<text x="328.50" y="48.70" font-size="8.5" font-weight="bold" text-anchor="middle" fill="#000" font-family='"Liberation Serif", serif' transform="rotate(-90 328.50 48.70)" stroke="#000" stroke-width="0.18">Number of SSRs</text>
<text x="435.00" y="126.00" font-size="8.3" font-weight="bold" text-anchor="middle" fill="#000" font-family='"Liberation Serif", serif'  stroke="#000" stroke-width="0.18">Type of motifs</text>
<line x1="352.00" y1="194.67" x2="532.00" y2="194.67" stroke="#d9d9d9" stroke-width="0.8" />
<line x1="352.00" y1="185.74" x2="532.00" y2="185.74" stroke="#d9d9d9" stroke-width="0.8" />
<line x1="352.00" y1="176.81" x2="532.00" y2="176.81" stroke="#d9d9d9" stroke-width="0.8" />
<line x1="352.00" y1="167.89" x2="532.00" y2="167.89" stroke="#d9d9d9" stroke-width="0.8" />
<line x1="352.00" y1="158.96" x2="532.00" y2="158.96" stroke="#d9d9d9" stroke-width="0.8" />
<line x1="352.00" y1="150.03" x2="532.00" y2="150.03" stroke="#d9d9d9" stroke-width="0.8" />
<line x1="352.00" y1="141.10" x2="532.00" y2="141.10" stroke="#d9d9d9" stroke-width="0.8" />
<line x1="352.00" y1="140.60" x2="352.00" y2="203.60" stroke="#bfbfbf" stroke-width="0.7" />
<line x1="352.00" y1="203.60" x2="532.00" y2="203.60" stroke="#bfbfbf" stroke-width="0.7" />
<line x1="350.00" y1="203.60" x2="352.00" y2="203.60" stroke="#bfbfbf" stroke-width="0.6" />
<text x="348.40" y="206.00" font-size="5.3" font-weight="bold" text-anchor="end" fill="#000" font-family='"Liberation Serif", serif'  stroke="#000" stroke-width="0.1">0</text>
<line x1="350.00" y1="194.67" x2="352.00" y2="194.67" stroke="#bfbfbf" stroke-width="0.6" />
<text x="348.40" y="197.07" font-size="5.3" font-weight="bold" text-anchor="end" fill="#000" font-family='"Liberation Serif", serif'  stroke="#000" stroke-width="0.1">5</text>
<line x1="350.00" y1="185.74" x2="352.00" y2="185.74" stroke="#bfbfbf" stroke-width="0.6" />
<text x="348.40" y="188.14" font-size="5.3" font-weight="bold" text-anchor="end" fill="#000" font-family='"Liberation Serif", serif'  stroke="#000" stroke-width="0.1">10</text>
<line x1="350.00" y1="176.81" x2="352.00" y2="176.81" stroke="#bfbfbf" stroke-width="0.6" />
<text x="348.40" y="179.21" font-size="5.3" font-weight="bold" text-anchor="end" fill="#000" font-family='"Liberation Serif", serif'  stroke="#000" stroke-width="0.1">15</text>
<line x1="350.00" y1="167.89" x2="352.00" y2="167.89" stroke="#bfbfbf" stroke-width="0.6" />
<text x="348.40" y="170.29" font-size="5.3" font-weight="bold" text-anchor="end" fill="#000" font-family='"Liberation Serif", serif'  stroke="#000" stroke-width="0.1">20</text>
<line x1="350.00" y1="158.96" x2="352.00" y2="158.96" stroke="#bfbfbf" stroke-width="0.6" />
<text x="348.40" y="161.36" font-size="5.3" font-weight="bold" text-anchor="end" fill="#000" font-family='"Liberation Serif", serif'  stroke="#000" stroke-width="0.1">25</text>
<line x1="350.00" y1="150.03" x2="352.00" y2="150.03" stroke="#bfbfbf" stroke-width="0.6" />
<text x="348.40" y="152.43" font-size="5.3" font-weight="bold" text-anchor="end" fill="#000" font-family='"Liberation Serif", serif'  stroke="#000" stroke-width="0.1">30</text>
<line x1="350.00" y1="141.10" x2="352.00" y2="141.10" stroke="#bfbfbf" stroke-width="0.6" />
<text x="348.40" y="143.50" font-size="5.3" font-weight="bold" text-anchor="end" fill="#000" font-family='"Liberation Serif", serif'  stroke="#000" stroke-width="0.1">35</text>
<rect x="354.10" y="151.81" width="3.10" height="51.79" fill="#78a646" />
<rect x="354.10" y="151.81" width="0.70" height="51.79" fill="#5c8a30" />
<rect x="356.50" y="151.81" width="0.70" height="51.79" fill="#5c8a30" />
<rect x="354.45" y="151.81" width="2.40" height="0.80" fill="#9cc468" />
<line x1="357.62" y1="203.60" x2="357.62" y2="205.20" stroke="#bfbfbf" stroke-width="0.5" />
<rect x="359.70" y="164.31" width="3.10" height="39.29" fill="#78a646" />
<rect x="359.70" y="164.31" width="0.70" height="39.29" fill="#5c8a30" />
<rect x="362.10" y="164.31" width="0.70" height="39.29" fill="#5c8a30" />
<rect x="360.05" y="164.31" width="2.40" height="0.80" fill="#9cc468" />
<line x1="363.25" y1="203.60" x2="363.25" y2="205.20" stroke="#bfbfbf" stroke-width="0.5" />
<rect x="365.30" y="167.89" width="3.10" height="35.71" fill="#78a646" />
<rect x="365.30" y="167.89" width="0.70" height="35.71" fill="#5c8a30" />
<rect x="367.70" y="167.89" width="0.70" height="35.71" fill="#5c8a30" />
<rect x="365.65" y="167.89" width="2.40" height="0.80" fill="#9cc468" />
<line x1="368.88" y1="203.60" x2="368.88" y2="205.20" stroke="#bfbfbf" stroke-width="0.5" />
<rect x="370.90" y="178.60" width="3.10" height="25.00" fill="#78a646" />
<rect x="370.90" y="178.60" width="0.70" height="25.00" fill="#5c8a30" />
<rect x="373.30" y="178.60" width="0.70" height="25.00" fill="#5c8a30" />
<rect x="371.25" y="178.60" width="2.40" height="0.80" fill="#9cc468" />
<line x1="374.50" y1="203.60" x2="374.50" y2="205.20" stroke="#bfbfbf" stroke-width="0.5" />
<rect x="376.50" y="178.60" width="3.10" height="25.00" fill="#78a646" />
<rect x="376.50" y="178.60" width="0.70" height="25.00" fill="#5c8a30" />
<rect x="378.90" y="178.60" width="0.70" height="25.00" fill="#5c8a30" />
<rect x="376.85" y="178.60" width="2.40" height="0.80" fill="#9cc468" />
<line x1="380.12" y1="203.60" x2="380.12" y2="205.20" stroke="#bfbfbf" stroke-width="0.5" />
<rect x="382.10" y="185.74" width="3.10" height="17.86" fill="#78a646" />
<rect x="382.10" y="185.74" width="0.70" height="17.86" fill="#5c8a30" />
<rect x="384.50" y="185.74" width="0.70" height="17.86" fill="#5c8a30" />
<rect x="382.45" y="185.74" width="2.40" height="0.80" fill="#9cc468" />
<line x1="385.75" y1="203.60" x2="385.75" y2="205.20" stroke="#bfbfbf" stroke-width="0.5" />
<rect x="387.70" y="187.53" width="3.10" height="16.07" fill="#78a646" />
<rect x="387.70" y="187.53" width="0.70" height="16.07" fill="#5c8a30" />
<rect x="390.10" y="187.53" width="0.70" height="16.07" fill="#5c8a30" />
<rect x="388.05" y="187.53" width="2.40" height="0.80" fill="#9cc468" />
<line x1="391.38" y1="203.60" x2="391.38" y2="205.20" stroke="#bfbfbf" stroke-width="0.5" />
<rect x="393.30" y="187.53" width="3.10" height="16.07" fill="#78a646" />
<rect x="393.30" y="187.53" width="0.70" height="16.07" fill="#5c8a30" />
<rect x="395.70" y="187.53" width="0.70" height="16.07" fill="#5c8a30" />
<rect x="393.65" y="187.53" width="2.40" height="0.80" fill="#9cc468" />
<line x1="397.00" y1="203.60" x2="397.00" y2="205.20" stroke="#bfbfbf" stroke-width="0.5" />
<rect x="398.90" y="192.89" width="3.10" height="10.71" fill="#78a646" />
<rect x="398.90" y="192.89" width="0.70" height="10.71" fill="#5c8a30" />
<rect x="401.30" y="192.89" width="0.70" height="10.71" fill="#5c8a30" />
<rect x="399.25" y="192.89" width="2.40" height="0.80" fill="#9cc468" />
<line x1="402.62" y1="203.60" x2="402.62" y2="205.20" stroke="#bfbfbf" stroke-width="0.5" />
<rect x="404.50" y="192.89" width="3.10" height="10.71" fill="#78a646" />
<rect x="404.50" y="192.89" width="0.70" height="10.71" fill="#5c8a30" />
<rect x="406.90" y="192.89" width="0.70" height="10.71" fill="#5c8a30" />
<rect x="404.85" y="192.89" width="2.40" height="0.80" fill="#9cc468" />
<line x1="408.25" y1="203.60" x2="408.25" y2="205.20" stroke="#bfbfbf" stroke-width="0.5" />
<rect x="410.10" y="196.46" width="3.10" height="7.14" fill="#78a646" />
<rect x="410.10" y="196.46" width="0.70" height="7.14" fill="#5c8a30" />
<rect x="412.50" y="196.46" width="0.70" height="7.14" fill="#5c8a30" />
<rect x="410.45" y="196.46" width="2.40" height="0.80" fill="#9cc468" />
<line x1="413.88" y1="203.60" x2="413.88" y2="205.20" stroke="#bfbfbf" stroke-width="0.5" />
<rect x="415.70" y="198.24" width="3.10" height="5.36" fill="#78a646" />
<rect x="415.70" y="198.24" width="0.70" height="5.36" fill="#5c8a30" />
<rect x="418.10" y="198.24" width="0.70" height="5.36" fill="#5c8a30" />
<rect x="416.05" y="198.24" width="2.40" height="0.80" fill="#9cc468" />
<line x1="419.50" y1="203.60" x2="419.50" y2="205.20" stroke="#bfbfbf" stroke-width="0.5" />
<rect x="421.30" y="198.24" width="3.10" height="5.36" fill="#78a646" />
<rect x="421.30" y="198.24" width="0.70" height="5.36" fill="#5c8a30" />
<rect x="423.70" y="198.24" width="0.70" height="5.36" fill="#5c8a30" />
<rect x="421.65" y="198.24" width="2.40" height="0.80" fill="#9cc468" />
<line x1="425.12" y1="203.60" x2="425.12" y2="205.20" stroke="#bfbfbf" stroke-width="0.5" />
<rect x="426.90" y="198.24" width="3.10" height="5.36" fill="#78a646" />
<rect x="426.90" y="198.24" width="0.70" height="5.36" fill="#5c8a30" />
<rect x="429.30" y="198.24" width="0.70" height="5.36" fill="#5c8a30" />
<rect x="427.25" y="198.24" width="2.40" height="0.80" fill="#9cc468" />
<line x1="430.75" y1="203.60" x2="430.75" y2="205.20" stroke="#bfbfbf" stroke-width="0.5" />
<rect x="432.50" y="198.24" width="3.10" height="5.36" fill="#78a646" />
<rect x="432.50" y="198.24" width="0.70" height="5.36" fill="#5c8a30" />
<rect x="434.90" y="198.24" width="0.70" height="5.36" fill="#5c8a30" />
<rect x="432.85" y="198.24" width="2.40" height="0.80" fill="#9cc468" />
<line x1="436.38" y1="203.60" x2="436.38" y2="205.20" stroke="#bfbfbf" stroke-width="0.5" />
<rect x="438.10" y="198.24" width="3.10" height="5.36" fill="#78a646" />
<rect x="438.10" y="198.24" width="0.70" height="5.36" fill="#5c8a30" />
<rect x="440.50" y="198.24" width="0.70" height="5.36" fill="#5c8a30" />
<rect x="438.45" y="198.24" width="2.40" height="0.80" fill="#9cc468" />
<line x1="442.00" y1="203.60" x2="442.00" y2="205.20" stroke="#bfbfbf" stroke-width="0.5" />
<rect x="443.70" y="198.24" width="3.10" height="5.36" fill="#78a646" />
<rect x="443.70" y="198.24" width="0.70" height="5.36" fill="#5c8a30" />
<rect x="446.10" y="198.24" width="0.70" height="5.36" fill="#5c8a30" />
<rect x="444.05" y="198.24" width="2.40" height="0.80" fill="#9cc468" />
<line x1="447.62" y1="203.60" x2="447.62" y2="205.20" stroke="#bfbfbf" stroke-width="0.5" />
<rect x="449.30" y="198.24" width="3.10" height="5.36" fill="#78a646" />
<rect x="449.30" y="198.24" width="0.70" height="5.36" fill="#5c8a30" />
<rect x="451.70" y="198.24" width="0.70" height="5.36" fill="#5c8a30" />
<rect x="449.65" y="198.24" width="2.40" height="0.80" fill="#9cc468" />
<line x1="453.25" y1="203.60" x2="453.25" y2="205.20" stroke="#bfbfbf" stroke-width="0.5" />
<rect x="454.90" y="198.24" width="3.10" height="5.36" fill="#78a646" />
<rect x="454.90" y="198.24" width="0.70" height="5.36" fill="#5c8a30" />
<rect x="457.30" y="198.24" width="0.70" height="5.36" fill="#5c8a30" />
<rect x="455.25" y="198.24" width="2.40" height="0.80" fill="#9cc468" />
<line x1="458.88" y1="203.60" x2="458.88" y2="205.20" stroke="#bfbfbf" stroke-width="0.5" />
<rect x="460.50" y="200.03" width="3.10" height="3.57" fill="#78a646" />
<rect x="460.50" y="200.03" width="0.70" height="3.57" fill="#5c8a30" />
<rect x="462.90" y="200.03" width="0.70" height="3.57" fill="#5c8a30" />
<rect x="460.85" y="200.03" width="2.40" height="0.80" fill="#9cc468" />
<line x1="464.50" y1="203.60" x2="464.50" y2="205.20" stroke="#bfbfbf" stroke-width="0.5" />
<rect x="466.10" y="200.03" width="3.10" height="3.57" fill="#78a646" />
<rect x="466.10" y="200.03" width="0.70" height="3.57" fill="#5c8a30" />
<rect x="468.50" y="200.03" width="0.70" height="3.57" fill="#5c8a30" />
<rect x="466.45" y="200.03" width="2.40" height="0.80" fill="#9cc468" />
<line x1="470.12" y1="203.60" x2="470.12" y2="205.20" stroke="#bfbfbf" stroke-width="0.5" />
<rect x="471.70" y="200.03" width="3.10" height="3.57" fill="#78a646" />
<rect x="471.70" y="200.03" width="0.70" height="3.57" fill="#5c8a30" />
<rect x="474.10" y="200.03" width="0.70" height="3.57" fill="#5c8a30" />
<rect x="472.05" y="200.03" width="2.40" height="0.80" fill="#9cc468" />
<line x1="475.75" y1="203.60" x2="475.75" y2="205.20" stroke="#bfbfbf" stroke-width="0.5" />
<rect x="477.30" y="200.03" width="3.10" height="3.57" fill="#78a646" />
<rect x="477.30" y="200.03" width="0.70" height="3.57" fill="#5c8a30" />
<rect x="479.70" y="200.03" width="0.70" height="3.57" fill="#5c8a30" />
<rect x="477.65" y="200.03" width="2.40" height="0.80" fill="#9cc468" />
<line x1="481.38" y1="203.60" x2="481.38" y2="205.20" stroke="#bfbfbf" stroke-width="0.5" />
<rect x="482.90" y="200.03" width="3.10" height="3.57" fill="#78a646" />
<rect x="482.90" y="200.03" width="0.70" height="3.57" fill="#5c8a30" />
<rect x="485.30" y="200.03" width="0.70" height="3.57" fill="#5c8a30" />
<rect x="483.25" y="200.03" width="2.40" height="0.80" fill="#9cc468" />
<line x1="487.00" y1="203.60" x2="487.00" y2="205.20" stroke="#bfbfbf" stroke-width="0.5" />
<rect x="488.50" y="200.03" width="3.10" height="3.57" fill="#78a646" />
<rect x="488.50" y="200.03" width="0.70" height="3.57" fill="#5c8a30" />
<rect x="490.90" y="200.03" width="0.70" height="3.57" fill="#5c8a30" />
<rect x="488.85" y="200.03" width="2.40" height="0.80" fill="#9cc468" />
<line x1="492.62" y1="203.60" x2="492.62" y2="205.20" stroke="#bfbfbf" stroke-width="0.5" />
<rect x="494.10" y="200.03" width="3.10" height="3.57" fill="#78a646" />
<rect x="494.10" y="200.03" width="0.70" height="3.57" fill="#5c8a30" />
<rect x="496.50" y="200.03" width="0.70" height="3.57" fill="#5c8a30" />
<rect x="494.45" y="200.03" width="2.40" height="0.80" fill="#9cc468" />
<line x1="498.25" y1="203.60" x2="498.25" y2="205.20" stroke="#bfbfbf" stroke-width="0.5" />
<rect x="499.70" y="200.03" width="3.10" height="3.57" fill="#78a646" />
<rect x="499.70" y="200.03" width="0.70" height="3.57" fill="#5c8a30" />
<rect x="502.10" y="200.03" width="0.70" height="3.57" fill="#5c8a30" />
<rect x="500.05" y="200.03" width="2.40" height="0.80" fill="#9cc468" />
<line x1="503.88" y1="203.60" x2="503.88" y2="205.20" stroke="#bfbfbf" stroke-width="0.5" />
<rect x="505.30" y="200.03" width="3.10" height="3.57" fill="#78a646" />
<rect x="505.30" y="200.03" width="0.70" height="3.57" fill="#5c8a30" />
<rect x="507.70" y="200.03" width="0.70" height="3.57" fill="#5c8a30" />
<rect x="505.65" y="200.03" width="2.40" height="0.80" fill="#9cc468" />
<line x1="509.50" y1="203.60" x2="509.50" y2="205.20" stroke="#bfbfbf" stroke-width="0.5" />
<rect x="510.90" y="200.03" width="3.10" height="3.57" fill="#78a646" />
<rect x="510.90" y="200.03" width="0.70" height="3.57" fill="#5c8a30" />
<rect x="513.30" y="200.03" width="0.70" height="3.57" fill="#5c8a30" />
<rect x="511.25" y="200.03" width="2.40" height="0.80" fill="#9cc468" />
<line x1="515.12" y1="203.60" x2="515.12" y2="205.20" stroke="#bfbfbf" stroke-width="0.5" />
<rect x="516.50" y="200.03" width="3.10" height="3.57" fill="#78a646" />
<rect x="516.50" y="200.03" width="0.70" height="3.57" fill="#5c8a30" />
<rect x="518.90" y="200.03" width="0.70" height="3.57" fill="#5c8a30" />
<rect x="516.85" y="200.03" width="2.40" height="0.80" fill="#9cc468" />
<line x1="520.75" y1="203.60" x2="520.75" y2="205.20" stroke="#bfbfbf" stroke-width="0.5" />
<rect x="522.10" y="200.03" width="3.10" height="3.57" fill="#78a646" />
<rect x="522.10" y="200.03" width="0.70" height="3.57" fill="#5c8a30" />
<rect x="524.50" y="200.03" width="0.70" height="3.57" fill="#5c8a30" />
<rect x="522.45" y="200.03" width="2.40" height="0.80" fill="#9cc468" />
<line x1="526.38" y1="203.60" x2="526.38" y2="205.20" stroke="#bfbfbf" stroke-width="0.5" />
<rect x="527.70" y="200.03" width="3.10" height="3.57" fill="#78a646" />
<rect x="527.70" y="200.03" width="0.70" height="3.57" fill="#5c8a30" />
<rect x="530.10" y="200.03" width="0.70" height="3.57" fill="#5c8a30" />
<rect x="528.05" y="200.03" width="2.40" height="0.80" fill="#9cc468" />
<line x1="532.00" y1="203.60" x2="532.00" y2="205.20" stroke="#bfbfbf" stroke-width="0.5" />
<text x="356.45" y="212.40" font-size="5.3" font-weight="normal" text-anchor="end" fill="#111" font-family='"Liberation Serif", serif' transform="rotate(-45 356.45 212.4)" stroke="#111" stroke-width="0.18">ACAT/ATGT</text>
<text x="367.65" y="212.40" font-size="5.3" font-weight="normal" text-anchor="end" fill="#111" font-family='"Liberation Serif", serif' transform="rotate(-45 367.65 212.4)" stroke="#111" stroke-width="0.18">AAGG/CCTT</text>
<text x="378.85" y="212.40" font-size="5.3" font-weight="normal" text-anchor="end" fill="#111" font-family='"Liberation Serif", serif' transform="rotate(-45 378.85 212.4)" stroke="#111" stroke-width="0.18">AGCT/AGCT</text>
<text x="390.05" y="212.40" font-size="5.3" font-weight="normal" text-anchor="end" fill="#111" font-family='"Liberation Serif", serif' transform="rotate(-45 390.05 212.4)" stroke="#111" stroke-width="0.18">AACC/GGTT</text>
<text x="401.25" y="212.40" font-size="5.3" font-weight="normal" text-anchor="end" fill="#111" font-family='"Liberation Serif", serif' transform="rotate(-45 401.25 212.4)" stroke="#111" stroke-width="0.18">ACTC/AGTG</text>
<text x="412.45" y="212.40" font-size="5.3" font-weight="normal" text-anchor="end" fill="#111" font-family='"Liberation Serif", serif' transform="rotate(-45 412.45 212.4)" stroke="#111" stroke-width="0.18">AAAAG/CTTTT</text>
<text x="423.65" y="212.40" font-size="5.3" font-weight="normal" text-anchor="end" fill="#111" font-family='"Liberation Serif", serif' transform="rotate(-45 423.65 212.4)" stroke="#111" stroke-width="0.18">AATT/AATT</text>
<text x="434.85" y="212.40" font-size="5.3" font-weight="normal" text-anchor="end" fill="#111" font-family='"Liberation Serif", serif' transform="rotate(-45 434.85 212.4)" stroke="#111" stroke-width="0.18">ACGG/CCGT</text>
<text x="446.05" y="212.40" font-size="5.3" font-weight="normal" text-anchor="end" fill="#111" font-family='"Liberation Serif", serif' transform="rotate(-45 446.05 212.4)" stroke="#111" stroke-width="0.18">AGCG/CGCT</text>
<text x="457.25" y="212.40" font-size="5.3" font-weight="normal" text-anchor="end" fill="#111" font-family='"Liberation Serif", serif' transform="rotate(-45 457.25 212.4)" stroke="#111" stroke-width="0.18">AAAAT/ATTTT</text>
<text x="468.45" y="212.40" font-size="5.3" font-weight="normal" text-anchor="end" fill="#111" font-family='"Liberation Serif", serif' transform="rotate(-45 468.45 212.4)" stroke="#111" stroke-width="0.18">AATC/ATTG</text>
<text x="479.65" y="212.40" font-size="5.3" font-weight="normal" text-anchor="end" fill="#111" font-family='"Liberation Serif", serif' transform="rotate(-45 479.65 212.4)" stroke="#111" stroke-width="0.18">ATCC/ATGG</text>
<text x="490.85" y="212.40" font-size="5.3" font-weight="normal" text-anchor="end" fill="#111" font-family='"Liberation Serif", serif' transform="rotate(-45 490.85 212.4)" stroke="#111" stroke-width="0.18">AATAC/ATTGT</text>
<text x="502.05" y="212.40" font-size="5.3" font-weight="normal" text-anchor="end" fill="#111" font-family='"Liberation Serif", serif' transform="rotate(-45 502.05 212.4)" stroke="#111" stroke-width="0.18">ACACC/GGTGT</text>
<text x="513.25" y="212.40" font-size="5.3" font-weight="normal" text-anchor="end" fill="#111" font-family='"Liberation Serif", serif' transform="rotate(-45 513.25 212.4)" stroke="#111" stroke-width="0.18">ACTAG/AGTCT</text>
<text x="524.45" y="212.40" font-size="5.3" font-weight="normal" text-anchor="end" fill="#111" font-family='"Liberation Serif", serif' transform="rotate(-45 524.45 212.4)" stroke="#111" stroke-width="0.18">ATCCG/ATCGG</text>
<text x="334.50" y="169.50" font-size="8.4" font-weight="bold" text-anchor="middle" fill="#000" font-family='"Liberation Serif", serif' transform="rotate(-90 334.50 169.50)" stroke="#000" stroke-width="0.18">Number of SSRs</text>
<text x="439.00" y="249.50" font-size="8.3" font-weight="bold" text-anchor="middle" fill="#000" font-family='"Liberation Serif", serif'  stroke="#000" stroke-width="0.18">Type of motifs</text>
<text x="320.70" y="257.00" font-size="10" font-weight="bold" text-anchor="start" fill="#000" font-family='"Liberation Sans", sans-serif'  stroke="#000" stroke-width="0.35">d</text>
<line x1="341.00" y1="269.00" x2="341.00" y2="336.40" stroke="#bfbfbf" stroke-width="0.7" />
<line x1="341.00" y1="336.40" x2="542.60" y2="336.40" stroke="#bfbfbf" stroke-width="0.7" />
<line x1="339.00" y1="336.40" x2="341.00" y2="336.40" stroke="#bfbfbf" stroke-width="0.6" />
<text x="336.30" y="338.60" font-size="6.5" font-weight="bold" text-anchor="end" fill="#000" font-family='"Liberation Serif", serif'  stroke="#000" stroke-width="0.1">0</text>
<line x1="339.00" y1="328.02" x2="341.00" y2="328.02" stroke="#bfbfbf" stroke-width="0.6" />
<text x="336.30" y="330.22" font-size="6.5" font-weight="bold" text-anchor="end" fill="#000" font-family='"Liberation Serif", serif'  stroke="#000" stroke-width="0.1">5</text>
<line x1="339.00" y1="319.65" x2="341.00" y2="319.65" stroke="#bfbfbf" stroke-width="0.6" />
<text x="336.30" y="321.85" font-size="6.5" font-weight="bold" text-anchor="end" fill="#000" font-family='"Liberation Serif", serif'  stroke="#000" stroke-width="0.1">10</text>
<line x1="339.00" y1="311.27" x2="341.00" y2="311.27" stroke="#bfbfbf" stroke-width="0.6" />
<text x="336.30" y="313.47" font-size="6.5" font-weight="bold" text-anchor="end" fill="#000" font-family='"Liberation Serif", serif'  stroke="#000" stroke-width="0.1">15</text>
<line x1="339.00" y1="302.90" x2="341.00" y2="302.90" stroke="#bfbfbf" stroke-width="0.6" />
<text x="336.30" y="305.10" font-size="6.5" font-weight="bold" text-anchor="end" fill="#000" font-family='"Liberation Serif", serif'  stroke="#000" stroke-width="0.1">20</text>
<line x1="339.00" y1="294.52" x2="341.00" y2="294.52" stroke="#bfbfbf" stroke-width="0.6" />
<text x="336.30" y="296.72" font-size="6.5" font-weight="bold" text-anchor="end" fill="#000" font-family='"Liberation Serif", serif'  stroke="#000" stroke-width="0.1">25</text>
<line x1="339.00" y1="286.15" x2="341.00" y2="286.15" stroke="#bfbfbf" stroke-width="0.6" />
<text x="336.30" y="288.35" font-size="6.5" font-weight="bold" text-anchor="end" fill="#000" font-family='"Liberation Serif", serif'  stroke="#000" stroke-width="0.1">30</text>
<line x1="339.00" y1="277.77" x2="341.00" y2="277.77" stroke="#bfbfbf" stroke-width="0.6" />
<text x="336.30" y="279.97" font-size="6.5" font-weight="bold" text-anchor="end" fill="#000" font-family='"Liberation Serif", serif'  stroke="#000" stroke-width="0.1">35</text>
<line x1="339.00" y1="269.40" x2="341.00" y2="269.40" stroke="#bfbfbf" stroke-width="0.6" />
<text x="336.30" y="271.60" font-size="6.5" font-weight="bold" text-anchor="end" fill="#000" font-family='"Liberation Serif", serif'  stroke="#000" stroke-width="0.1">40</text>
<line x1="341.00" y1="336.40" x2="341.00" y2="338.40" stroke="#bfbfbf" stroke-width="0.6" />
<line x1="374.60" y1="336.40" x2="374.60" y2="338.40" stroke="#bfbfbf" stroke-width="0.6" />
<line x1="408.20" y1="336.40" x2="408.20" y2="338.40" stroke="#bfbfbf" stroke-width="0.6" />
<line x1="441.80" y1="336.40" x2="441.80" y2="338.40" stroke="#bfbfbf" stroke-width="0.6" />
<line x1="475.40" y1="336.40" x2="475.40" y2="338.40" stroke="#bfbfbf" stroke-width="0.6" />
<line x1="509.00" y1="336.40" x2="509.00" y2="338.40" stroke="#bfbfbf" stroke-width="0.6" />
<line x1="542.60" y1="336.40" x2="542.60" y2="338.40" stroke="#bfbfbf" stroke-width="0.6" />
<rect x="351.05" y="327.86" width="13.50" height="8.54" fill="#1a80d4" />
<rect x="351.05" y="327.86" width="1.10" height="8.54" fill="#0b4e90" />
<rect x="363.45" y="327.86" width="1.10" height="8.54" fill="#0b4e90" />
<rect x="351.60" y="327.86" width="12.40" height="1.10" fill="#50b0f0" />
<text x="358.30" y="347.80" font-size="6.0" font-weight="bold" text-anchor="middle" fill="#000" font-family='"Liberation Serif", serif'  stroke="#000" stroke-width="0.1">Mono</text>
<rect x="384.65" y="271.91" width="13.50" height="64.49" fill="#1a80d4" />
<rect x="384.65" y="271.91" width="1.10" height="64.49" fill="#0b4e90" />
<rect x="397.05" y="271.91" width="1.10" height="64.49" fill="#0b4e90" />
<rect x="385.20" y="271.91" width="12.40" height="1.10" fill="#50b0f0" />
<text x="391.90" y="347.80" font-size="6.0" font-weight="bold" text-anchor="middle" fill="#000" font-family='"Liberation Serif", serif'  stroke="#000" stroke-width="0.1">Di</text>
<rect x="418.25" y="334.72" width="13.50" height="1.68" fill="#ec4040" />
<rect x="418.25" y="334.72" width="1.10" height="1.68" fill="#a81c1c" />
<rect x="430.65" y="334.72" width="1.10" height="1.68" fill="#a81c1c" />
<text x="425.50" y="347.80" font-size="6.0" font-weight="bold" text-anchor="middle" fill="#000" font-family='"Liberation Serif", serif'  stroke="#000" stroke-width="0.1">Tri</text>
<rect x="451.85" y="292.85" width="13.50" height="43.55" fill="#ec4040" />
<rect x="451.85" y="292.85" width="1.10" height="43.55" fill="#a81c1c" />
<rect x="464.25" y="292.85" width="1.10" height="43.55" fill="#a81c1c" />
<rect x="452.40" y="292.85" width="12.40" height="1.10" fill="#ff8888" />
<text x="459.10" y="347.80" font-size="6.0" font-weight="bold" text-anchor="middle" fill="#000" font-family='"Liberation Serif", serif'  stroke="#000" stroke-width="0.1">Tetra</text>
<rect x="485.45" y="329.70" width="13.50" height="6.70" fill="#ec4040" />
<rect x="485.45" y="329.70" width="1.10" height="6.70" fill="#a81c1c" />
<rect x="497.85" y="329.70" width="1.10" height="6.70" fill="#a81c1c" />
<rect x="486.00" y="329.70" width="12.40" height="1.10" fill="#ff8888" />
<text x="492.70" y="347.80" font-size="6.0" font-weight="bold" text-anchor="middle" fill="#000" font-family='"Liberation Serif", serif'  stroke="#000" stroke-width="0.1">Penta</text>
<rect x="519.05" y="334.22" width="13.50" height="2.18" fill="#b0704c" />
<rect x="519.05" y="334.22" width="1.10" height="2.18" fill="#7a4428" />
<rect x="531.45" y="334.22" width="1.10" height="2.18" fill="#7a4428" />
<rect x="519.05" y="329.70" width="13.50" height="4.52" fill="#8ed04c" />
<rect x="519.05" y="329.70" width="1.10" height="4.52" fill="#5a8c28" />
<rect x="531.45" y="329.70" width="1.10" height="4.52" fill="#5a8c28" />
<rect x="519.60" y="329.70" width="12.40" height="1.10" fill="#c4f088" />
<text x="526.30" y="347.80" font-size="6.0" font-weight="bold" text-anchor="middle" fill="#000" font-family='"Liberation Serif", serif'  stroke="#000" stroke-width="0.1">Hexa</text>
<text x="322.30" y="302.90" font-size="8.4" font-weight="bold" text-anchor="middle" fill="#000" font-family='"Liberation Serif", serif' transform="rotate(-90 322.30 302.90)" stroke="#000" stroke-width="0.18">Number of SSRs</text>
<text x="445.60" y="364.30" font-size="8.3" font-weight="bold" text-anchor="middle" fill="#000" font-family='"Liberation Serif", serif'  stroke="#000" stroke-width="0.18">SSR motif unit</text>
<rect x="484.50" y="273.60" width="3.70" height="3.70" fill="#80b848" />
<text x="490.20" y="278.30" font-size="6.0" font-weight="bold" text-anchor="start" fill="#a0a0a0" font-family='"Liberation Serif", serif'  stroke="#a0a0a0" stroke-width="0.1">8 repeat type</text>
<text x="489.60" y="277.70" font-size="6.0" font-weight="bold" text-anchor="start" fill="#000" font-family='"Liberation Serif", serif'  stroke="#000" stroke-width="0.1">8 repeat type</text>
<rect x="484.50" y="287.40" width="3.70" height="3.70" fill="#d03838" />
<text x="490.20" y="292.10" font-size="6.0" font-weight="bold" text-anchor="start" fill="#a0a0a0" font-family='"Liberation Serif", serif'  stroke="#a0a0a0" stroke-width="0.1">5-6 repeat type</text>
<text x="489.60" y="291.50" font-size="6.0" font-weight="bold" text-anchor="start" fill="#000" font-family='"Liberation Serif", serif'  stroke="#000" stroke-width="0.1">5-6 repeat type</text>
<rect x="484.50" y="301.20" width="3.70" height="3.70" fill="#1070b8" />
<text x="490.20" y="305.90" font-size="6.0" font-weight="bold" text-anchor="start" fill="#a0a0a0" font-family='"Liberation Serif", serif'  stroke="#a0a0a0" stroke-width="0.1">10-12 repeat type</text>
<text x="489.60" y="305.30" font-size="6.0" font-weight="bold" text-anchor="start" fill="#000" font-family='"Liberation Serif", serif'  stroke="#000" stroke-width="0.1">10-12 repeat type</text>
</svg></body></html>
